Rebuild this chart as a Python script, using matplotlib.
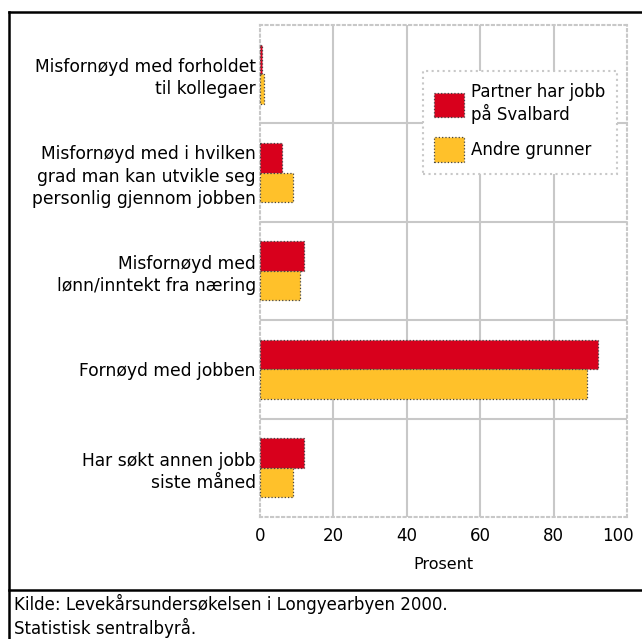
import matplotlib.pyplot as plt
from matplotlib.lines import Line2D
from matplotlib.transforms import ScaledTranslation

# Data
categories = [
    "Misfornøyd med forholdet\ntil kollegaer",
    "Misfornøyd med i hvilken\ngrad man kan utvikle seg\npersonlig gjennom jobben",
    "Misfornøyd med\nlønn/inntekt fra næring",
    "Fornøyd med jobben",
    "Har søkt annen jobb\nsiste måned",
]
partner = [0.5, 6, 12, 92, 12]
andre = [1, 9, 11, 89, 9]
series_names = ["Partner har jobb\npå Svalbard", "Andre grunner"]
ticks = [0, 20, 40, 60, 80, 100]

red = "#d8001c"
orange = "#ffc12a"
grid_col = "#c8c8c8"

fig = plt.figure(figsize=(6.42, 6.39), dpi=100)
ax = fig.add_axes([0.405, 0.191, 0.572, 0.770])

ypos = list(range(len(categories)))
h = 0.3
ax.barh([y - h / 2 for y in ypos], partner, height=h, color=red,
        edgecolor="#444444", linewidth=0.9, linestyle=":", label=series_names[0], zorder=3)
ax.barh([y + h / 2 for y in ypos], andre, height=h, color=orange,
        edgecolor="#444444", linewidth=0.9, linestyle=":", label=series_names[1], zorder=3)

ax.set_xlim(0, 100)
ax.set_ylim(len(categories) - 0.5, -0.5)
ax.set_yticks(ypos)
ax.set_yticklabels(categories, fontsize=12.3, ha="right", linespacing=1.3)
ax.set_xticks(ticks)
ax.set_xticklabels([str(t) for t in ticks], fontsize=12)
ax.tick_params(length=0, pad=3)
ax.tick_params(axis="x", pad=7)
ax.set_xlabel("Prosent", fontsize=11.5, labelpad=9)

# the last tick label sits at the right edge, nudge it so it stays visible
last = ax.get_xticklabels()[-1]
last.set_transform(last.get_transform() + ScaledTranslation(-9 / 100, 0, fig.dpi_scale_trans))

# grid: vertical lines at ticks, horizontal separators between groups
for t in ticks[1:-1]:
    ax.axvline(t, color=grid_col, linewidth=1.5, zorder=1)
for y in ypos[:-1]:
    ax.axhline(y + 0.5, color=grid_col, linewidth=1.5, zorder=1)

for s in ax.spines.values():
    s.set_color(grid_col)
    s.set_linestyle(":")
    s.set_linewidth(1.5)

leg = ax.legend(loc="upper right", bbox_to_anchor=(0.995, 0.923), fontsize=12,
                handlelength=1.75, handleheight=1.9, borderpad=0.7,
                labelspacing=0.8, handletextpad=0.45, fancybox=False, framealpha=1)
leg.get_frame().set_edgecolor(grid_col)
leg.get_frame().set_linestyle(":")
leg.get_frame().set_linewidth(1.5)

# outer frame and source separator
W, H = 642, 639
fig.add_artist(Line2D([9 / W, 1], [1 - 12 / H, 1 - 12 / H], color="black", linewidth=1.8))
fig.add_artist(Line2D([9 / W, 9 / W], [0, 1 - 12 / H], color="black", linewidth=1.8))
fig.add_artist(Line2D([9 / W, 1], [1 - 590 / H, 1 - 590 / H], color="black", linewidth=1.8))

fig.text(14 / W, 1 - 594 / H, "Kilde: Levekårsundersøkelsen i Longyearbyen 2000.\nStatistisk sentralbyrå.",
         fontsize=12, va="top", ha="left", linespacing=1.25)

fig.savefig("out.png", dpi=100)
